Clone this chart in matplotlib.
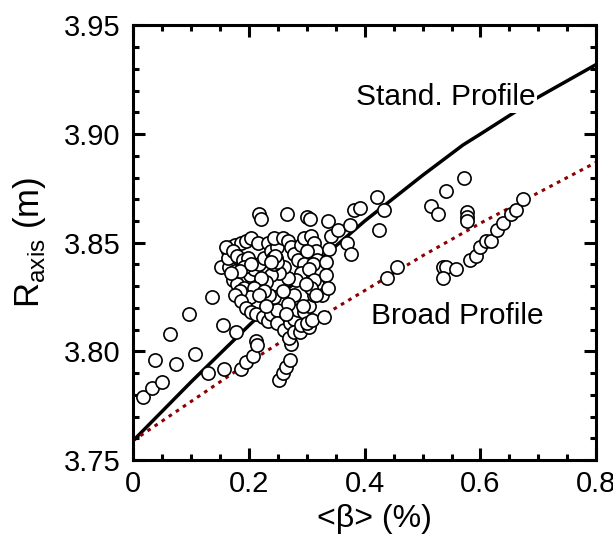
import matplotlib.pyplot as plt
from matplotlib.ticker import MultipleLocator

plt.rcParams['font.family'] = ['Liberation Sans', 'DejaVu Sans']

# model curves
std_beta = [0, 0.1, 0.2, 0.3, 0.4, 0.5, 0.57, 0.6, 0.7, 0.8]
std_r = [3.759, 3.786, 3.812, 3.837, 3.860, 3.881, 3.895, 3.900, 3.917, 3.932]
brd_beta = [0, 0.1, 0.2, 0.3, 0.4, 0.5, 0.6, 0.7, 0.8]
brd_r = [3.759, 3.777, 3.795, 3.812, 3.828, 3.844, 3.859, 3.873, 3.887]

# measured points
beta_low = [0.017, 0.032, 0.038, 0.049, 0.063, 0.074, 0.097, 0.106, 0.129, 0.136,
            0.155, 0.157, 0.178, 0.186, 0.195, 0.206, 0.212, 0.214, 0.151]
r_low = [3.779, 3.783, 3.796, 3.786, 3.808, 3.794, 3.817, 3.799, 3.790, 3.825,
         3.812, 3.792, 3.809, 3.792, 3.795, 3.798, 3.805, 3.803, 3.839]

beta_cl = [0.163, 0.169, 0.175, 0.186, 0.195, 0.203, 0.215, 0.169, 0.166, 0.175,
           0.172, 0.180, 0.192, 0.201, 0.209, 0.218, 0.226, 0.232, 0.238, 0.244,
           0.249, 0.244, 0.258, 0.267, 0.272, 0.278, 0.284, 0.290, 0.295, 0.307,
           0.313, 0.315, 0.318, 0.301, 0.295, 0.290, 0.281, 0.267, 0.261, 0.252,
           0.238, 0.229, 0.221, 0.209, 0.201, 0.184, 0.175, 0.186, 0.195, 0.203,
           0.212, 0.224, 0.232, 0.238, 0.249, 0.244, 0.235, 0.226, 0.218, 0.229,
           0.249, 0.261, 0.270, 0.278, 0.284, 0.295, 0.304, 0.313, 0.318, 0.310,
           0.321, 0.278, 0.267, 0.258, 0.264,
           0.241, 0.247, 0.243, 0.248, 0.245, 0.238,
           0.163, 0.160, 0.172, 0.180, 0.189, 0.198, 0.192, 0.184, 0.203, 0.169,
           0.310, 0.304, 0.313, 0.307, 0.298]
r_cl = [3.846, 3.848, 3.849, 3.850, 3.851, 3.852, 3.850, 3.842, 3.839, 3.837,
        3.833, 3.831, 3.829, 3.835, 3.838, 3.840, 3.843, 3.850, 3.846, 3.842,
        3.848, 3.852, 3.852, 3.851, 3.848, 3.845, 3.842, 3.849, 3.852, 3.853,
        3.850, 3.846, 3.842, 3.846, 3.840, 3.836, 3.833, 3.834, 3.839, 3.836,
        3.835, 3.832, 3.834, 3.829, 3.825, 3.828, 3.826, 3.823, 3.820, 3.818,
        3.817, 3.816, 3.814, 3.817, 3.819, 3.825, 3.826, 3.828, 3.826, 3.821,
        3.813, 3.810, 3.813, 3.815, 3.819, 3.818, 3.821, 3.826, 3.831, 3.835,
        3.837, 3.826, 3.822, 3.828, 3.817,
        3.843, 3.843, 3.840, 3.841, 3.844, 3.841,
        3.843, 3.848, 3.846, 3.844, 3.842, 3.843, 3.839, 3.837, 3.840, 3.836,
        3.840, 3.838, 3.833, 3.829, 3.831]

beta_top = [0.217, 0.220, 0.265, 0.301, 0.306, 0.336]
r_top = [3.863, 3.861, 3.863, 3.862, 3.861, 3.860]

beta_tail = [0.252, 0.258, 0.264, 0.270, 0.272, 0.269, 0.278, 0.288, 0.290, 0.304,
             0.301, 0.293, 0.309, 0.326, 0.330]
r_tail = [3.787, 3.790, 3.793, 3.796, 3.8035, 3.806, 3.809, 3.809, 3.812, 3.811,
          3.813, 3.821, 3.8145, 3.826, 3.816]

beta_hi = [0.341, 0.339, 0.333, 0.333, 0.336, 0.316, 0.353, 0.370, 0.376, 0.375,
           0.382, 0.392, 0.422, 0.434, 0.425, 0.438, 0.455, 0.514, 0.527, 0.541,
           0.571, 0.576, 0.576, 0.576, 0.536, 0.540, 0.536, 0.557, 0.5815, 0.593,
           0.600, 0.609, 0.618, 0.628, 0.639, 0.652, 0.662, 0.673]
r_hi = [3.853, 3.847, 3.841, 3.835, 3.829, 3.826, 3.856, 3.850, 3.845, 3.858,
        3.865, 3.866, 3.871, 3.865, 3.856, 3.834, 3.839, 3.867, 3.863, 3.874,
        3.880, 3.864, 3.862, 3.860, 3.839, 3.839, 3.834, 3.838, 3.842, 3.844,
        3.848, 3.851, 3.851, 3.856, 3.859, 3.863, 3.865, 3.870]

beta = beta_low + beta_cl + beta_top + beta_tail + beta_hi
r_axis = r_low + r_cl + r_top + r_tail + r_hi

fig = plt.figure(figsize=(6.13, 5.4), dpi=100)
ax = fig.add_axes([0.2175, 0.148, 0.755, 0.805])

ax.plot(std_beta, std_r, color='black', lw=2.5, zorder=1)
ax.plot(brd_beta, brd_r, color='#8b0000', lw=2.2, linestyle=(0, (1.2, 1.6)), zorder=1)
ax.plot(beta, r_axis, linestyle='None', marker='o', ms=9.5, mfc='white',
        mec='black', mew=1.2, zorder=3)

ax.text(0.54, 3.917, 'Stand. Profile', fontsize=21.5, ha='center', va='center',
        bbox=dict(facecolor='white', edgecolor='none', pad=1), zorder=4)
ax.text(0.56, 3.8165, 'Broad Profile', fontsize=21.5, ha='center', va='center', zorder=4)

ax.set_xlim(0, 0.8)
ax.set_ylim(3.75, 3.95)
ax.xaxis.set_minor_locator(MultipleLocator(0.05))
ax.yaxis.set_minor_locator(MultipleLocator(0.01))
ax.set_xticks([0, 0.2, 0.4, 0.6, 0.8])
ax.set_xticklabels(['0', '0.2', '0.4', '0.6', '0.8'])
ax.set_yticks([3.75, 3.80, 3.85, 3.90, 3.95])
ax.set_yticklabels(['3.75', '3.80', '3.85', '3.90', '3.95'])
ax.tick_params(which='both', direction='in', top=True, right=True, labelsize=21, width=2.2)
ax.tick_params(which='major', length=8.4)
ax.tick_params(which='minor', length=4.3)
ax.tick_params(axis='x', pad=7)
ax.tick_params(axis='y', pad=9)
for s in ax.spines.values():
    s.set_linewidth(2.2)

ax.set_xlabel('<β> (%)', fontsize=23)
ax.xaxis.set_label_coords(0.52, -0.1)
ax.set_ylabel(r'R$_{\mathregular{axis}}$ (m)', fontsize=25)
ax.yaxis.set_label_coords(-0.185, 0.5)

fig.savefig('out.png', dpi=100)
